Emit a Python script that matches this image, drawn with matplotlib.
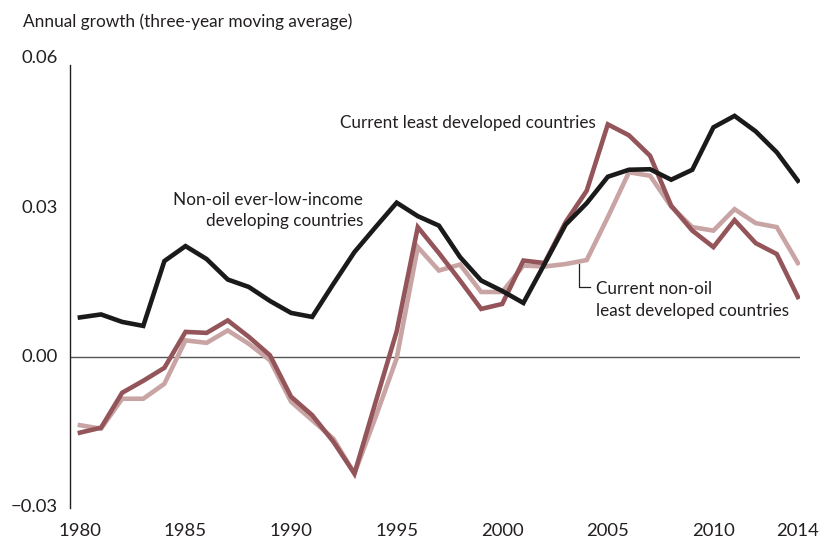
import matplotlib
matplotlib.use("Agg")
import matplotlib.pyplot as plt

plt.rcParams['font.family'] = ['Lato', 'DejaVu Sans']

years = list(range(1980, 2015))

non_oil_ever_low_income = [
    0.0080, 0.0086, 0.0071, 0.0063, 0.0193, 0.0223, 0.0197, 0.0156, 0.0141, 0.0113,
    0.0089, 0.0081, 0.0147, 0.0211, 0.0261, 0.0310, 0.0283, 0.0264, 0.0201, 0.0154,
    0.0133, 0.0109, 0.0187, 0.0266, 0.0309, 0.0362, 0.0376, 0.0377, 0.0356, 0.0376,
    0.0461, 0.0484, 0.0453, 0.0411, 0.0354,
]

current_ldc = [
    -0.0151, -0.0141, -0.0071, -0.0047, -0.0021, 0.0051, 0.0049, 0.0074, 0.0041, 0.0004,
    -0.0079, -0.0116, -0.0169, -0.0233, -0.0090, 0.0052, 0.0261, 0.0209, 0.0154, 0.0097,
    0.0107, 0.0194, 0.0189, 0.0271, 0.0334, 0.0467, 0.0445, 0.0404, 0.0304, 0.0254,
    0.0221, 0.0275, 0.0229, 0.0207, 0.0121,
]

current_non_oil_ldc = [
    -0.0136, -0.0143, -0.0083, -0.0083, -0.0053, 0.0034, 0.0029, 0.0054, 0.0027, -0.0006,
    -0.0089, -0.0126, -0.0163, -0.0233, -0.0120, -0.0002, 0.0221, 0.0174, 0.0186, 0.0131,
    0.0131, 0.0184, 0.0182, 0.0187, 0.0195, 0.0281, 0.0371, 0.0364, 0.0302, 0.0261,
    0.0254, 0.0297, 0.0269, 0.0261, 0.0189,
]

xtick_values = [1980, 1985, 1990, 1995, 2000, 2005, 2010, 2014]
ytick_values = [-0.03, 0.00, 0.03, 0.06]
ytick_labels = ["\u22120.03", "0.00", "0.03", "0.06"]

text_color = "#231f20"
c_black = "#1a1a1a"
c_dark = "#93555a"
c_light = "#c9a4a4"

fig = plt.figure(figsize=(8.21, 5.41), dpi=100)
ax = fig.add_axes([70/821, 1 - 507/541, (800 - 70)/821, (507 - 58)/541])

ax.plot(years, current_non_oil_ldc, color=c_light, lw=3.3, solid_joinstyle='miter', zorder=3)
ax.plot(years, current_ldc, color=c_dark, lw=3.3, solid_joinstyle='miter', zorder=4)
ax.plot(years, non_oil_ever_low_income, color=c_black, lw=3.3, solid_joinstyle='miter', zorder=5)

ax.axhline(0, color="#555555", lw=1.0, zorder=1)

ax.set_xlim(1979.53, 2014.1)
ax.set_ylim(-0.03, 0.06)

for s in ["top", "right", "bottom"]:
    ax.spines[s].set_visible(False)
ax.spines["left"].set_bounds(-0.0302, 0.0585)
ax.spines["left"].set_color("#231f20")
ax.spines["left"].set_linewidth(1.0)

ax.set_xticks(xtick_values)
ax.set_xticklabels([str(v) for v in xtick_values])
ax.set_yticks(ytick_values)
ax.set_yticklabels(ytick_labels)
ax.tick_params(axis="both", length=0, labelsize=13.3, colors=text_color)
ax.tick_params(axis="y", pad=9)
ax.tick_params(axis="x", pad=17)
for lab in ax.get_yticklabels():
    lab.set_verticalalignment("center")
for lab in ax.get_xticklabels():
    lab.set_verticalalignment("center")

fig.text(23/821, 1 - 22/541, "Annual growth (three-year moving average)",
         fontsize=12.4, color=text_color, ha="left", va="center")

ann_fs = 12.3
ax.text(2004.41, 0.0470, "Current least developed countries", fontsize=ann_fs,
        color=text_color, ha="right", va="center")
ax.text(1993.41, 0.0295, "Non-oil ever-low-income\ndeveloping countries", fontsize=ann_fs,
        color=text_color, ha="right", va="center", multialignment="right", linespacing=1.4)
ax.text(2004.45, 0.0115, "Current non-oil\nleast developed countries", fontsize=ann_fs,
        color=text_color, ha="left", va="center", multialignment="left", linespacing=1.4)

# leader line
ax.plot([2003.65, 2003.65, 2004.17], [0.0188, 0.0140, 0.0140], color=text_color, lw=0.9, zorder=2)

fig.savefig("out.png", dpi=100)
